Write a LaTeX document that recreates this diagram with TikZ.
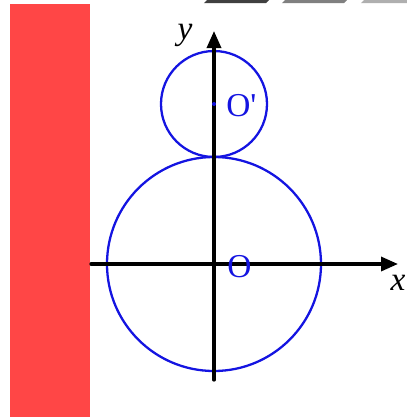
\documentclass[tikz,border=0pt]{standalone}
\usepackage{fontspec}
\setmainfont{Liberation Serif}
\usetikzlibrary{arrows.meta}
\usetikzlibrary{positioning}
\tikzset{
	>={Triangle[length=3.4mm, width=2.8mm]},
	axis/.style={black, line width=1.9pt, ->},
	circ/.style={blueC, line width=1.3pt},
	axlabel/.style={font=\fontsize{19}{22}\selectfont\itshape, inner sep=0pt},
	ptlabel/.style={blueC, font=\fontsize{19}{22}\selectfont, inner sep=0pt},
}
\begin{document}
\begin{tikzpicture}[x=0.02cm, y=-0.02cm, line cap=round, line join=round]
		
		% ---- Colors ----
		\definecolor{blueC}{RGB}{20,20,225}
		\definecolor{wallR}{RGB}{255,70,70}
		\definecolor{tabA}{RGB}{64,64,64}
		\definecolor{tabB}{RGB}{128,128,128}
		\definecolor{tabC}{RGB}{175,175,175}
		
		\useasboundingbox (0,0) rectangle (407,417);
		
		% ---- Tabs along the top edge ----
		\fill[tabA] (207,0) -- (269,0) -- (266,3) -- (204,3) -- cycle;
		\fill[tabB] (285,0) -- (347,0) -- (344,3) -- (282,3) -- cycle;
		\fill[tabC] (364,0) -- (407,0) -- (407,3) -- (361,3) -- cycle;
		
		% ---- Wall ----
		\fill[wallR] (10,4) rectangle (90,417);
		
		% ---- Centres ----
		\coordinate (O) at (214,264);
		\coordinate (O2) at (214,104);
		
		% ---- Circles ----
		\draw[circ] (O) circle (107);
		\draw[circ] (O2) circle (53);
		
		% ---- Axes ----
		\coordinate (xs) at (91,264);
		\coordinate (xe) at (398,264);
		\coordinate (ys) at (214,380);
		\coordinate (ye) at (214,31);
		\draw[axis] (xs) -- (xe);
		\draw[axis] (ys) -- (ye);
		\node[axlabel] (xl) at (398,283) {x};
		\node[axlabel] (yl) at (185,35) {y};
		
		% ---- Points ----
		\fill[blueC] (O2) circle (2);
		\node[ptlabel, anchor=west] (O2l) at (226,106) {O\textquotesingle};
		\node[ptlabel, anchor=west] (Ol) at (227,267) {O};
		
	\end{tikzpicture}
\end{document}
